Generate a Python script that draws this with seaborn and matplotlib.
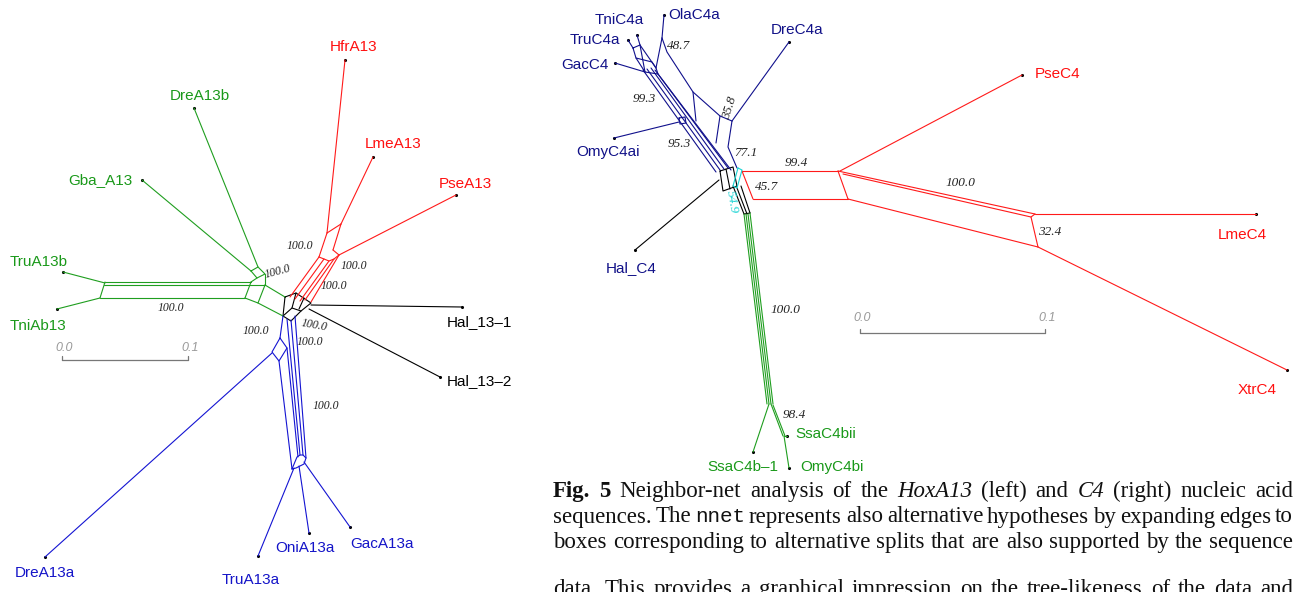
import matplotlib
matplotlib.use("Agg")
import matplotlib.pyplot as plt
import seaborn as sns
import pandas as pd

# === Data: node coordinates of the two split networks (picture pixels, y down) ===
# HoxA13 network (left)
A13_TIPS = ["HfrA13", "LmeA13", "PseA13", "Hal_13–1", "Hal_13–2", "GacA13a", "OniA13a",
            "TruA13a", "DreA13a", "TniAb13", "TruA13b", "Gba_A13", "DreA13b"]
A13_TIP_XY = [(345, 60), (373, 157), (456, 195), (462, 307), (440, 377), (350, 527), (309, 533),
              (258, 556), (45, 557), (57, 309), (63, 272), (142, 180), (194, 108)]
A13_TIP_GROUP = ["red", "red", "red", "black", "black", "blue", "blue",
                 "blue", "blue", "green", "green", "green", "green"]

A13_EDGES = {
    "black": [
        [(285, 297), (296, 293), (311, 303), (301, 311), (291, 321), (283, 316), (285, 297)],
        [(296, 293), (292, 308), (283, 316)],
        [(292, 308), (301, 311)],
        [(304, 298), (299, 309)],
        [(311, 305), (462, 307)],
        [(309, 309), (440, 377)],
    ],
    "green": [
        [(142, 180), (251, 271)],
        [(194, 108), (258, 267)],
        [(251, 271), (258, 267), (265, 274), (257, 278), (251, 271)],
        [(257, 278), (251, 282)],
        [(265, 274), (265, 285)],
        [(105, 282), (251, 282)],
        [(104, 285), (251, 285)],
        [(100, 298), (245, 298)],
        [(105, 282), (100, 298)],
        [(251, 282), (245, 298)],
        [(63, 272), (105, 283)],
        [(57, 309), (100, 298)],
        [(251, 285), (265, 285)],
        [(245, 298), (258, 303), (265, 285)],
        [(265, 285), (285, 297)],
        [(258, 303), (283, 316)],
    ],
    "red": [
        [(345, 60), (327, 233)],
        [(373, 157), (341, 224)],
        [(327, 233), (341, 224)],
        [(327, 233), (319, 257)],
        [(341, 224), (333, 250)],
        [(456, 195), (339, 255)],
        [(333, 250), (339, 255)],
        [(319, 257), (324, 259), (329, 261), (334, 259), (339, 255)],
        [(319, 257), (290, 297)],
        [(324, 259), (295, 299)],
        [(329, 261), (300, 301)],
        [(334, 259), (305, 300)],
        [(339, 255), (311, 302)],
    ],
    "blue": [
        [(283, 316), (280, 338)],
        [(280, 338), (287, 348), (279, 361), (272, 352), (280, 338)],
        [(45, 557), (272, 353)],
        [(287, 348), (298, 457)],
        [(279, 361), (292, 469)],
        [(287, 319), (300, 455)],
        [(291, 320), (303, 455)],
        [(295, 316), (306, 458)],
        [(292, 469), (297, 457), (300, 455), (303, 455), (306, 458), (304, 464), (296, 468), (292, 469)],
        [(294, 468), (258, 556)],
        [(299, 466), (309, 533)],
        [(304, 462), (350, 527)],
    ],
}

# C4 network (right)
C4_TIPS = ["TniC4a", "OlaC4a", "TruC4a", "GacC4", "DreC4a", "OmyC4ai", "Hal_C4",
           "PseC4", "LmeC4", "XtrC4", "SsaC4bii", "SsaC4b–1", "OmyC4bi"]
C4_TIP_XY = [(637, 35), (664, 15), (628, 40), (615, 63), (789, 42), (614, 138), (635, 250),
             (1022, 75), (1256, 214), (1287, 370), (787, 436), (753, 452), (789, 468)]
C4_TIP_GROUP = ["navy", "navy", "navy", "navy", "navy", "navy", "navy",
                "red", "red", "red", "green", "green", "green"]

C4_EDGES = {
    "navy": [
        [(664, 15), (662, 38)],
        [(662, 38), (656, 68)],
        [(662, 38), (667, 52), (693, 92), (720, 116), (732, 121)],
        [(789, 42), (732, 121)],
        [(693, 92), (696, 121)],
        [(720, 116), (716, 143)],
        [(732, 121), (728, 147), (737, 168)],
        [(637, 35), (640, 45)],
        [(628, 40), (633, 48)],
        [(615, 63), (645, 72)],
        [(633, 48), (640, 45), (656, 68), (658, 74), (645, 72), (636, 58), (633, 48)],
        [(636, 58), (652, 62), (656, 68)],
        [(640, 45), (645, 72)],
        [(643, 70), (716, 172)],
        [(647, 69), (720, 170)],
        [(651, 68), (724, 169)],
        [(655, 70), (728, 168)],
        [(658, 74), (731, 170)],
        [(614, 138), (679, 122)],
        [(679, 118), (685, 117), (686, 123), (680, 124), (679, 118)],
    ],
    "cyan": [
        [(738, 168), (742, 170), (737, 188), (733, 186), (738, 168)],
    ],
    "black": [
        [(720, 171), (733, 167), (737, 186), (723, 191), (720, 171)],
        [(726, 169), (730, 189)],
        [(635, 250), (719, 180)],
        [(733, 186), (744, 214)],
        [(737, 188), (747, 214)],
        [(741, 186), (750, 213)],
        [(744, 214), (750, 213)],
    ],
    "red": [
        [(742, 171), (838, 171)],
        [(742, 171), (753, 199)],
        [(753, 199), (848, 199)],
        [(838, 171), (848, 199)],
        [(840, 171), (1022, 75)],
        [(838, 171), (1035, 214)],
        [(843, 174), (1031, 217)],
        [(1035, 214), (1256, 214)],
        [(1035, 214), (1031, 217), (1038, 247)],
        [(848, 199), (1038, 247)],
        [(1038, 247), (1287, 370)],
    ],
    "green": [
        [(744, 214), (767, 404)],
        [(746, 214), (769, 404)],
        [(748, 214), (771, 404)],
        [(750, 213), (773, 404)],
        [(769, 404), (753, 452)],
        [(771, 404), (783, 436)],
        [(773, 405), (785, 436)],
        [(784, 436), (787, 436)],
        [(784, 436), (789, 468)],
    ],
}

# split support values
A13_SUPPORT = ["100.0"] * 9
C4_SUPPORT = ["48.7", "99.3", "35.8", "95.3", "77.1", "99.4", "45.7", "54.9",
              "100.0", "32.4", "100.0", "98.4"]

# === Layout / styles ===
A13_LABEL_XY = [(330, 47), (365, 144), (439, 184), (447, 322), (447, 381), (350, 544), (275, 548),
                (222, 580), (15, 573), (10, 326), (10, 262), (68, 180), (170, 96)]
C4_LABEL_XY = [(595, 20), (668, 15), (570, 40), (561, 65), (771, 30), (576, 152), (606, 268),
               (1035, 74), (1218, 235), (1238, 390), (795, 434), (707, 467), (800, 467)]
A13_SUPPORT_XY = [(171, 308, 0), (278, 272, 15), (300, 246, 0), (354, 266, 0), (334, 286, 0),
                  (256, 331, 0), (314, 325, -10), (310, 342, 0), (326, 406, 0)]
C4_SUPPORT_XY = [(679, 46, 0), (644, 99, 0), (730, 108, 72), (679, 144, 0), (746, 153, 0),
                 (796, 163, 0), (767, 187, 0), (732, 202, -80), (960, 183, 0), (1050, 232, 0),
                 (785, 310, 0), (794, 415, 0)]

PALETTE = {"black": "#000000", "green": "#1f9e1f", "red": "#ff1a1a", "blue": "#1414d2",
           "navy": "#10108c", "cyan": "#19d3d3"}
TEXT_COL = {"black": "#000000", "green": "#1a991a", "red": "#ff1010", "blue": "#1414c8",
            "navy": "#111188"}

sns.set_theme(style="white")
plt.rcParams["font.family"] = ["Liberation Sans", "DejaVu Sans"]

fig = plt.figure(figsize=(13, 5.92), dpi=100)
ax = fig.add_axes([0, 0, 1, 1])


def edges_frame(edges, tag):
    rows = []
    for col, lines in edges.items():
        for i, line in enumerate(lines):
            for x, y in line:
                rows.append({"x": x, "y": y, "seg": f"{tag}-{col}-{i}", "col": col})
    return pd.DataFrame(rows)


df = pd.concat([edges_frame(A13_EDGES, "a13"), edges_frame(C4_EDGES, "c4")], ignore_index=True)
sns.lineplot(data=df, x="x", y="y", units="seg", estimator=None, sort=False, hue="col",
             palette=PALETTE, legend=False, linewidth=0.8, ax=ax)

tips = pd.DataFrame(A13_TIP_XY + C4_TIP_XY, columns=["x", "y"])
sns.scatterplot(data=tips, x="x", y="y", s=5, color="black", linewidth=0, ax=ax)

# taxon labels
for names, pos, grp in [(A13_TIPS, A13_LABEL_XY, A13_TIP_GROUP), (C4_TIPS, C4_LABEL_XY, C4_TIP_GROUP)]:
    for name, (x, y), g in zip(names, pos, grp):
        ax.text(x, y, name, fontsize=11, color=TEXT_COL[g], ha="left", va="center")

# support values
for vals, pos, fs in [(A13_SUPPORT, A13_SUPPORT_XY, 8.5), (C4_SUPPORT, C4_SUPPORT_XY, 9.5)]:
    for v, (x, y, rot) in zip(vals, pos):
        c = PALETTE["cyan"] if v == "54.9" else "#222222"
        ax.text(x, y, v, fontsize=fs, family="Liberation Serif", style="italic", color=c,
                ha="center", va="center", rotation=rot)

# scale bars
for (x0, x1, yb, yl) in [(62, 188, 360, 348), (860, 1045, 333, 318)]:
    ax.plot([x0, x1], [yb, yb], color="#777777", lw=0.9)
    ax.plot([x0, x0], [yb - 4, yb], color="#777777", lw=0.9)
    ax.plot([x1, x1], [yb - 4, yb], color="#777777", lw=0.9)
    ax.text(x0 + 2, yl, "0.0", fontsize=9, style="italic", color="#999999", ha="center", va="center")
    ax.text(x1 + 2, yl, "0.1", fontsize=9, style="italic", color="#999999", ha="center", va="center")

ax.set_xlim(0, 1300)
ax.set_ylim(592, 0)
ax.axis("off")

# caption, justified between two margins
CAPTION = [
    [("Fig.", "b"), ("5", "b"), ("Neighbor-net", ""), ("analysis", ""), ("of", ""), ("the", ""),
     ("HoxA13", "i"), ("(left)", ""), ("and", ""), ("C4", "i"), ("(right)", ""), ("nucleic", ""), ("acid", "")],
    [(w, "m" if w == "nnet" else "") for w in
     "sequences. The nnet represents also alternative hypotheses by expanding edges to".split()],
    [(w, "") for w in "boxes corresponding to alternative splits that are also supported by the sequence".split()],
    [(w, "") for w in "data. This provides a graphical impression on the tree-likeness of the data and".split()],
]
CAP_Y = [497, 522.5, 548, 595]
CAP_X0, CAP_X1 = 553, 1293

renderer = fig.canvas.get_renderer()
for tokens, y in zip(CAPTION, CAP_Y):
    texts = []
    for w, st in tokens:
        kw = dict(fontsize=16.5, family="Liberation Serif", color="#111111", va="baseline", ha="left")
        if st == "b":
            kw["weight"] = "bold"
        elif st == "i":
            kw["style"] = "italic"
        elif st == "m":
            kw["family"] = "Liberation Mono"
            kw["fontsize"] = 15
        texts.append(ax.text(0, y, w, **kw))
    widths = [t.get_window_extent(renderer).width for t in texts]
    gap = (CAP_X1 - CAP_X0 - sum(widths)) / (len(texts) - 1)
    x = CAP_X0
    for t, w in zip(texts, widths):
        t.set_x(x)
        x += w + gap

fig.savefig("out.png", dpi=100)
